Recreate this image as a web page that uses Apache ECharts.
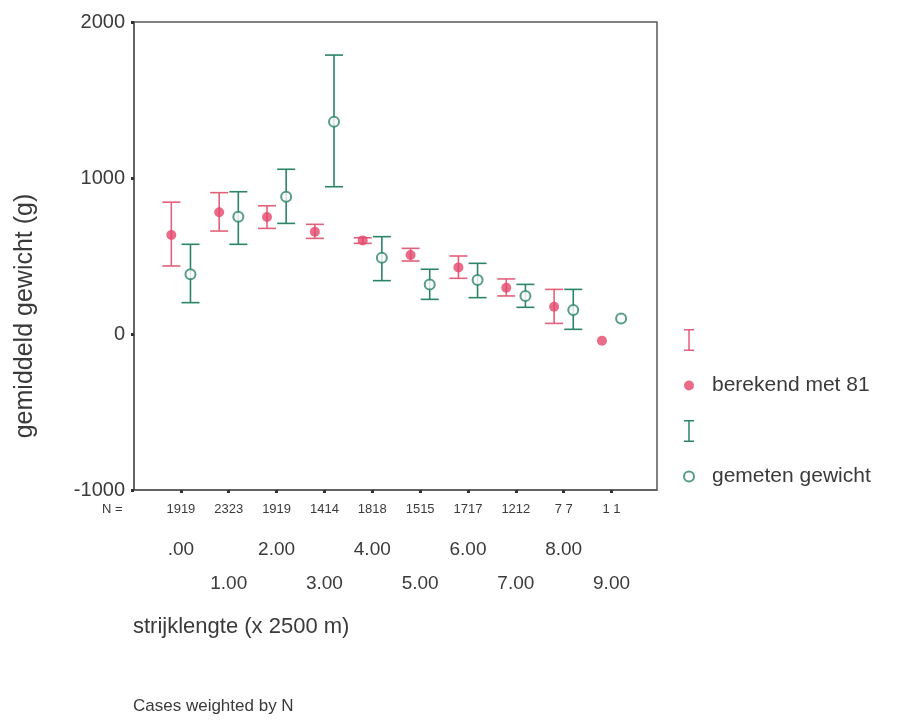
<!DOCTYPE html>
<html>
<head>
<meta charset="utf-8">
<script src="https://cdn.jsdelivr.net/npm/echarts@6/dist/echarts.min.js"></script>
<style>
html,body{margin:0;padding:0;background:#fff;}
#chart{width:915px;height:725px;}
</style>
</head>
<body>
<div id="chart"></div>
<script>
// ---- data ----
const CATS = [0, 1, 2, 3, 4, 5, 6, 7, 8, 9];
const TICK_LABELS = ['.00', '1.00', '2.00', '3.00', '4.00', '5.00', '6.00', '7.00', '8.00', '9.00'];
const N_LABELS = ['1919', '2323', '1919', '1414', '1818', '1515', '1717', '1212', '7 7', '1 1'];

const BER_MEAN = [635, 780, 750, 656, 600, 506, 427, 297, 175, -43];
const BER_LOW  = [436, 660, 677, 613, 581, 468, 357, 244, 68, null];
const BER_HIGH = [845, 906, 822, 703, 617, 549, 500, 353, 286, null];

const GEM_MEAN = [383, 752, 880, 1361, 489, 318, 346, 244, 154, 100];
const GEM_LOW  = [201, 575, 709, 944, 342, 222, 233, 171, 30, null];
const GEM_HIGH = [575, 912, 1056, 1788, 624, 415, 453, 318, 286, null];

// ---- styles ----
const RED = '#e4476b';
const RED_LINE = '#e2617a';
const GREEN = '#2c8466';
const FONT = "'Liberation Sans', Arial, sans-serif";
const TEXT = '#3a3a3a';
const AXIS = '#5a5a5a';
const OFF = 0.2;      // horizontal offset of the two groups within a category
const CAP = 9;        // half width of error bar caps in px
const X_MIN = -0.98, X_MAX = 9.95;
const IBEAM = 'path://M0,0H10V1.5H5.75V20.5H10V22H0V20.5H4.25V1.5H0Z';

function errData(low, high, off) {
  const out = [];
  CATS.forEach((c, i) => { if (low[i] != null) out.push([c + off, low[i], high[i]]); });
  return out;
}
function ptData(mean, off) {
  return CATS.map((c, i) => [c + off, mean[i]]);
}
function errRender(color) {
  return function (params, api) {
    const x = api.value(0);
    const lo = api.coord([x, api.value(1)]);
    const hi = api.coord([x, api.value(2)]);
    const st = { stroke: color, lineWidth: 1.6 };
    return {
      type: 'group',
      children: [
        { type: 'line', shape: { x1: lo[0], y1: lo[1], x2: hi[0], y2: hi[1] }, style: st },
        { type: 'line', shape: { x1: hi[0] - CAP, y1: hi[1], x2: hi[0] + CAP, y2: hi[1] }, style: st },
        { type: 'line', shape: { x1: lo[0] - CAP, y1: lo[1], x2: lo[0] + CAP, y2: lo[1] }, style: st }
      ]
    };
  };
}

const baseX = {
  type: 'value', min: X_MIN, max: X_MAX, position: 'bottom',
  splitLine: { show: false }, axisLine: { show: false }, axisTick: { show: false }
};

const chart = echarts.init(document.getElementById('chart'));
chart.setOption({
  backgroundColor: '#ffffff',
  animation: false,
  textStyle: { fontFamily: FONT },
  grid: { left: 134, top: 22, right: 258, bottom: 235, show: true, borderColor: AXIS, borderWidth: 1.5, backgroundColor: 'transparent' },
  xAxis: [
    Object.assign({}, baseX, {
      axisLine: { show: true, onZero: false, lineStyle: { color: AXIS, width: 1.5 } },
      axisTick: { show: true, customValues: CATS, length: 3, lineStyle: { color: '#333', width: 3 } },
      axisLabel: { customValues: CATS, margin: 13, fontSize: 13, color: TEXT,
        fontFamily: "'Liberation Sans Narrow', 'Liberation Sans', Arial",
        formatter: v => N_LABELS[Math.round(v)] }
    }),
    Object.assign({}, baseX, {
      offset: 42,
      axisLabel: { customValues: CATS.filter(c => c % 2 === 0), margin: 8, fontSize: 19, color: TEXT,
        formatter: v => TICK_LABELS[Math.round(v)] }
    }),
    Object.assign({}, baseX, {
      offset: 76,
      axisLabel: { customValues: CATS.filter(c => c % 2 === 1), margin: 8, fontSize: 19, color: TEXT,
        formatter: v => TICK_LABELS[Math.round(v)] }
    })
  ],
  yAxis: {
    type: 'value', min: -1000, max: 2000, interval: 1000,
    splitLine: { show: false },
    axisLine: { show: true, onZero: false, lineStyle: { color: AXIS, width: 1.5 } },
    axisTick: { show: true, length: 3, lineStyle: { color: '#333', width: 3 } },
    axisLabel: { fontSize: 20, color: TEXT, margin: 9, formatter: v => String(v) }
  },
  legend: {
    orient: 'vertical', left: 678, top: 324, itemGap: 24, itemWidth: 10, itemHeight: 22,
    selectedMode: false,
    textStyle: { fontSize: 21, color: TEXT, padding: [0, 0, 0, 13] },
    formatter: name => (name.startsWith('err') ? '' : name),
    data: [
      { name: 'err-b', icon: IBEAM },
      { name: 'berekend met 81', icon: 'circle' },
      { name: 'err-g', icon: IBEAM },
      { name: 'gemeten gewicht', icon: 'emptyCircle' }
    ]
  },
  graphic: [
    { type: 'text', x: 25, y: 316, rotation: Math.PI / 2,
      style: { text: 'gemiddeld gewicht (g)', fontSize: 25, fill: TEXT, fontFamily: FONT, align: 'center', verticalAlign: 'middle' } },
    { type: 'text', left: 102, top: 503, style: { text: 'N =', fontSize: 13, fill: TEXT, fontFamily: FONT } },
    { type: 'text', left: 133, top: 616, style: { text: 'strijklengte (x 2500 m)', fontSize: 22, fill: TEXT, fontFamily: FONT } },
    { type: 'text', left: 133, top: 698, style: { text: 'Cases weighted by N', fontSize: 17, fill: TEXT, fontFamily: FONT } }
  ],
  series: [
    { name: 'err-b', type: 'custom', renderItem: errRender(RED_LINE), data: errData(BER_LOW, BER_HIGH, -OFF),
      itemStyle: { color: RED_LINE }, encode: { x: 0, y: [1, 2] }, z: 2 },
    { name: 'err-g', type: 'custom', renderItem: errRender(GREEN), data: errData(GEM_LOW, GEM_HIGH, OFF),
      itemStyle: { color: GREEN }, encode: { x: 0, y: [1, 2] }, z: 2 },
    { name: 'berekend met 81', type: 'scatter', data: ptData(BER_MEAN, -OFF), symbol: 'circle', symbolSize: 10,
      itemStyle: { color: RED }, z: 5 },
    { name: 'gemeten gewicht', type: 'scatter', data: ptData(GEM_MEAN, OFF), symbol: 'emptyCircle', symbolSize: 10,
      itemStyle: { color: GREEN, borderColor: GREEN, borderWidth: 1.5 }, z: 5 }
  ]
});
</script>
</body>
</html>
